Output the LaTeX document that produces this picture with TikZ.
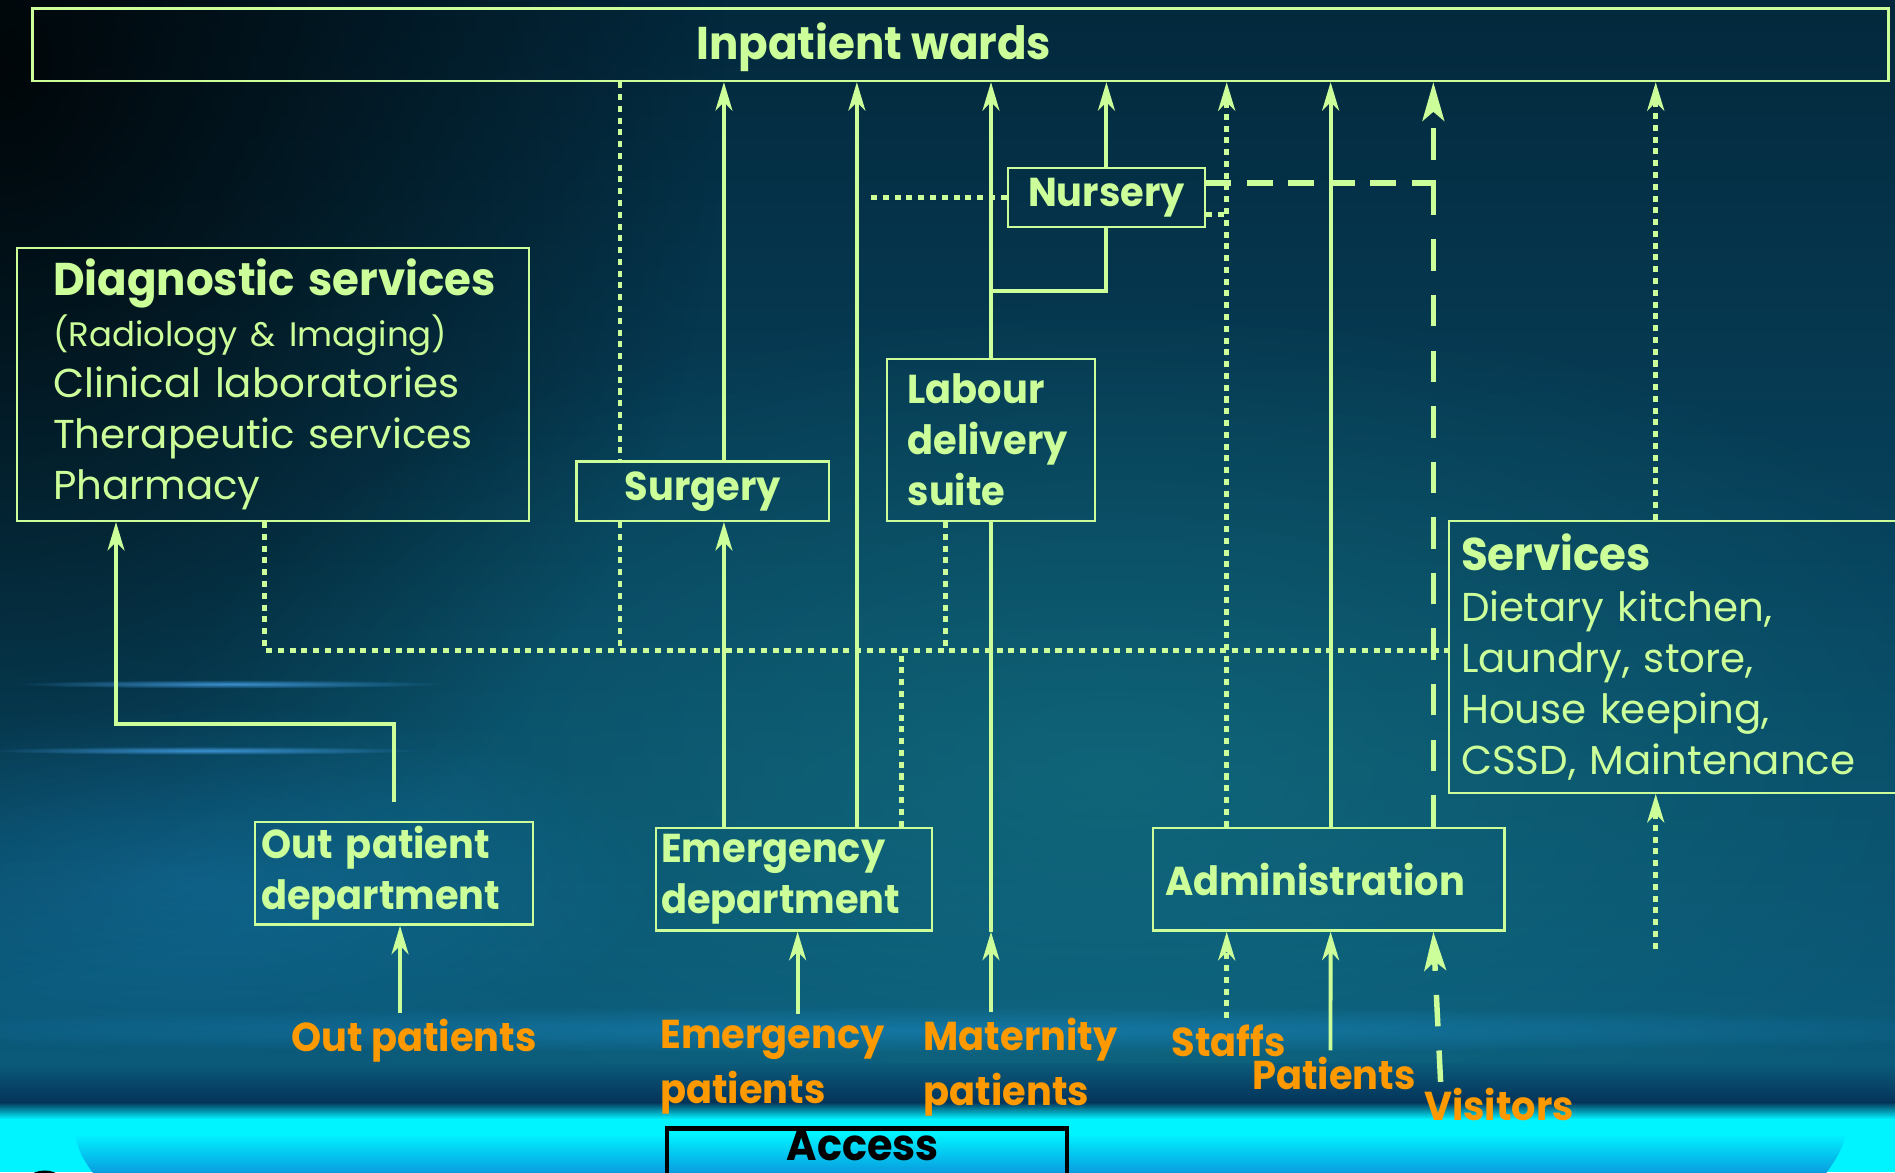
\documentclass[tikz,border=0pt]{standalone}
\usepackage{fontspec}
\setmainfont{Poppins}[UprightFeatures={FakeStretch=1.0}, BoldFeatures={FakeStretch=0.95}]
\usetikzlibrary{arrows.meta,calc,fadings}

\definecolor{planline}{HTML}{CCFF99}
\definecolor{arrival}{HTML}{FF9900}
\definecolor{bgtop}{HTML}{03283C}
\definecolor{bgbot}{HTML}{0B5A7A}
\definecolor{bgdeep}{HTML}{04345A}
\definecolor{bandblue}{HTML}{1A86C0}
\definecolor{streak}{HTML}{4AA6EE}
\definecolor{glowteal}{HTML}{1A8A90}
\definecolor{floorcyan}{HTML}{00F4FF}
\definecolor{floorblue}{HTML}{0A90DC}

\newcommand\roomfont{\fontsize{19}{24}\selectfont}
\newcommand\wardfont{\fontsize{21.6}{26}\selectfont}

\tikzfading[name=soft spot, inner color=transparent!0, outer color=transparent!100]

\begin{document}
\begin{tikzpicture}[x=0.02cm, y=-0.02cm,
	room/.style={draw=planline, line width=0.04cm, text=planline, font=\bfseries\roomfont,
		anchor=north west, inner sep=0pt},
	wire/.style={draw=planline, line width=0.065cm},
	dots/.style={draw=planline, line width=0.08cm, dash pattern=on 0.1cm off 0.095cm},
	dashes/.style={draw=planline, line width=0.09cm, dash pattern=on 0.52cm off 0.4cm},
	flow/.style={-{Stealth[length=0.47cm, width=0.28cm, inset=0.14cm]}},
	bigflow/.style={-{Stealth[length=0.64cm, width=0.36cm, inset=0.15cm]}},
	who/.style={text=arrival, font=\bfseries\fontsize{19}{25.5}\selectfont, anchor=west,
		inner xsep=0pt, inner ysep=0.1cm, align=left}]
	\useasboundingbox (0,0) rectangle (1568,970);
	\clip (0,0) rectangle (1568,970);

	% backdrop
	\shade[top color=bgtop, bottom color=bgbot] (0,0) rectangle (1568,880);
	\fill[black, opacity=.85, path fading=soft spot] (0,60) ellipse [x radius=12cm, y radius=15cm];
	\fill[glowteal, opacity=.4, path fading=soft spot] (920,640) ellipse [x radius=16cm, y radius=8cm];
	\fill[bandblue, opacity=.35, path fading=soft spot] (160,730) ellipse [x radius=8cm, y radius=3cm];
	\fill[streak, opacity=.8, path fading=soft spot] (190,566) ellipse [x radius=3.6cm, y radius=0.07cm];
	\fill[streak, opacity=.8, path fading=soft spot] (170,621) ellipse [x radius=3.6cm, y radius=0.07cm];
	\fill[bandblue, opacity=.6, path fading=soft spot] (800,852) ellipse [x radius=19cm, y radius=0.4cm];
	\shade[top color=bgbot, bottom color=bgdeep] (0,880) rectangle (1568,912);
	\shade[top color=bgdeep, bottom color=floorcyan] (0,912) rectangle (1568,926);
	\fill[floorcyan] (0,926) rectangle (1568,970);
	\shade[top color=floorcyan, bottom color=floorblue]
		(62,938) .. controls (66,955) .. (80,975) -- (1508,975) .. controls (1522,955) .. (1528,938) -- cycle;
	\draw[black, line width=0.1cm] (37,990) circle [radius=0.38cm];

	% rooms
	\node[room, minimum width=30.72cm, minimum height=1.2cm] (wards) at (26,6) {};
	\node[text=planline, font=\bfseries\wardfont, inner sep=0pt] (wardname) at (723,39) {Inpatient wards};
	\node[room, minimum height=4.52cm, inner xsep=0.6cm, text width=7.28cm, align=left, font=\roomfont] (diag) at (13,204)
		{\mbox{\bfseries\wardfont Diagnostic services}\\{\fontsize{16}{24}\selectfont(Radiology \& Imaging)}\\Clinical laboratories\\Therapeutic services\\Pharmacy};
	\node[room, minimum width=4.18cm, minimum height=0.98cm] (surg) at (476,381) {Surgery};
	\node[room, minimum height=2.68cm, inner xsep=0.34cm, text width=2.76cm, align=left] (labour) at (733,296)
		{Labour\\delivery\\suite};
	\node[room, minimum width=3.26cm, minimum height=0.98cm] (nurs) at (833,138) {Nursery};
	\node[room, minimum height=4.5cm, inner xsep=0.2cm, text width=7.6cm, align=left, font=\roomfont] (serv) at (1198,430)
		{{\bfseries\wardfont Services}\\Dietary kitchen,\\Laundry, store,\\House keeping,\\CSSD, Maintenance};
	\node[room, minimum height=1.7cm, inner xsep=0.1cm, text width=4.4cm, align=left] (opd) at (210,679)
		{Out patient\\department};
	\node[room, minimum height=1.7cm, inner xsep=0.08cm, text width=4.4cm, align=left] (emerg) at (542,684)
		{Emergency\\department};
	\node[room, minimum height=1.7cm, inner xsep=0.2cm, text width=5.42cm, align=left] (admin) at (953,684)
		{Administration};
	\node[draw=black, line width=0.07cm, anchor=north west, minimum width=6.62cm, minimum height=1.2cm] (access) at (550,932) {};
	\node[font=\bfseries\fontsize{20.5}{24}\selectfont, inner sep=0pt] (accessname) at (714,948) {Access};

	% people coming in
	\node[who] (outpat) at (241,861) {Out patients};
	\node[who] (emgpat) at (546,883) {Emergency\\patients};
	\node[who] (matpat) at (764,883) {Maternity\\patients};
	\node[who] (staff) at (969,861) {Staffs};
	\node[who] (patient) at (1036,888) {Patients};
	\node[who] (visitor) at (1178,914) {Visitors};

	% supply lines
	\coordinate (bus) at (219,538);
	\draw[dots] (diag.south -| bus) -- (bus) -- (bus -| serv.west);
	\draw[dots] (wards.south -| 513,0) -- (surg.north -| 513,0);
	\draw[dots] (surg.south -| 513,0) -- (bus -| 513,0);
	\draw[dots] (emerg.north -| 746,0) -- (bus -| 746,0);
	\draw[dots] (labour.south -| 782,0) -- (bus -| 782,0);
	\draw[dots] (nurs.west) -- ++(-113,0);
	\draw[dots] ($(nurs.east)+(0,14)$) -- ++(19,0);
	\draw[dashes, dash pattern=on 0.42cm off 0.26cm] ($(nurs.east)+(0,-12)$) -- ++(190,0);

	% routes up to the wards
	\draw[wire, flow] (surg.north -| 599,0) -- (wards.south -| 599,0);
	\draw[wire, flow] (emerg.north -| 599,0) -- (surg.south -| 599,0);
	\draw[wire, flow] (emerg.north -| 709,0) -- (wards.south -| 709,0);
	\draw[wire, flow] (labour.north) -- (labour.north |- wards.south);
	\draw[wire] (nurs.south) |- ($(labour.north)+(0,-55)$);
	\draw[wire, flow] (nurs.north) -- (nurs.north |- wards.south);
	\draw[dots, flow] (admin.north -| 1015,0) -- (wards.south -| 1015,0);
	\draw[wire, flow] (admin.north -| 1101,0) -- (wards.south -| 1101,0);
	\draw[dashes, bigflow] (admin.north -| 1186,0) -- (wards.south -| 1186,0);
	\draw[dots, flow] (serv.north -| 1370,0) -- (wards.south -| 1370,0);
	\coordinate (servfeed) at (1370,785);
	\draw[dots, flow] (servfeed) -- (servfeed |- serv.south);
	\draw[wire, flow] ([yshift=0.3cm]opd.north) |- (96,599) -- (diag.south -| 96,0);

	% arrivals
	\draw[wire, flow] (outpat.north -| 331,0) -- (opd.south -| 331,0);
	\draw[wire, flow] (emgpat.north -| 660,0) -- (emerg.south -| 660,0);
	\draw[wire, flow] (matpat.north -| labour.south) -- (labour.south |- emerg.south);
	\draw[wire] (labour.south) -- (labour.south |- emerg.south);
	\draw[dots, flow] (staff.north -| 1015,0) -- (admin.south -| 1015,0);
	\draw[wire, flow] ($(patient.north)+(-3,0)$) -- (admin.south -| 1101,0);
	\draw[dashes, bigflow] (visitor.north -| 1192,0) -- (admin.south -| 1186,0);
\end{tikzpicture}
\end{document}
